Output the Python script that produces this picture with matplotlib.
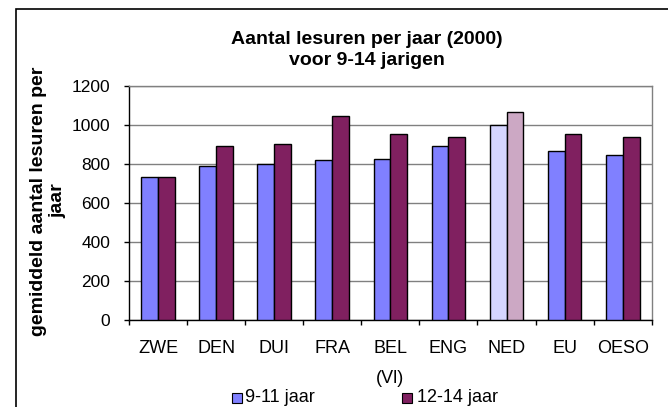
import matplotlib
matplotlib.use("Agg")
import matplotlib.pyplot as plt
from matplotlib.patches import Rectangle
import numpy as np

categories = ["ZWE", "DEN", "DUI", "FRA", "BEL\n(Vl)", "ENG", "NED", "EU", "OESO"]
jaar_9_11 = [734, 787, 799, 818, 824, 889, 1000, 865, 843]
jaar_12_14 = [734, 889, 899, 1043, 954, 935, 1063, 954, 935]
yticks = [0, 200, 400, 600, 800, 1000, 1200]
highlight = "NED"

plt.rcParams['font.family'] = ['Liberation Sans', 'DejaVu Sans']

PX = 72 / 100  # points per pixel at dpi 100

fig = plt.figure(figsize=(6.68, 4.07), dpi=100)
ax = fig.add_axes([129/668, 1-320/407, (651.7-129)/668, (320-85.7)/407])

x = np.arange(len(categories))
w = 0.29
c1 = ["#D5D5FF" if c == highlight else "#8080FF" for c in categories]
c2 = ["#CCA8C4" if c == highlight else "#802060" for c in categories]
ax.bar(x - w/2, jaar_9_11, w, color=c1, edgecolor="black", linewidth=1.0, zorder=3)
ax.bar(x + w/2, jaar_12_14, w, color=c2, edgecolor="black", linewidth=1.0, zorder=3)

ax.set_xlim(-0.5, len(categories) - 0.5)
ax.set_ylim(0, 1200)
ax.set_yticks(yticks)
ax.set_yticklabels([str(v) for v in yticks], fontsize=12.5)
ax.yaxis.grid(True, color="#808080", linewidth=1.0, zorder=0)
ax.set_axisbelow(True)

ax.set_xticks(np.arange(len(categories) + 1) - 0.5)
ax.set_xticklabels([])
ax.set_xticks(x, minor=True)
ax.set_xticklabels(categories, minor=True, fontsize=13, linespacing=2.0, va="top")
ax.tick_params(axis="x", which="minor", length=0, pad=20 * PX)
ax.tick_params(axis="x", which="major", length=5 * PX, direction="out", color="black", width=1)
ax.tick_params(axis="y", length=5 * PX, direction="out", color="black", width=1, pad=14 * PX)

for s in ["top", "right"]:
    ax.spines[s].set_color("#808080")
    ax.spines[s].set_linewidth(1.0)
for s in ["left", "bottom"]:
    ax.spines[s].set_color("black")
    ax.spines[s].set_linewidth(1.0)

fig.text(367/668, 1 - 50/407, "Aantal lesuren per jaar (2000)\nvoor 9-14 jarigen",
         ha="center", va="center", fontsize=14, fontweight="bold", linespacing=1.3)
fig.text(48/668, 1 - 201/407, "gemiddeld aantal lesuren per\njaar", rotation=90,
         ha="center", va="center", fontsize=14, fontweight="bold", linespacing=1.15, multialignment="center")

# legend
fig.patches.append(Rectangle((232/668, 1-403/407), 10/668, 10/407, transform=fig.transFigure,
                             facecolor="#8080FF", edgecolor="black", linewidth=0.8))
fig.text(245/668, 1-398/407, "9-11 jaar", ha="left", va="center", fontsize=13)
fig.patches.append(Rectangle((402/668, 1-403/407), 10/668, 10/407, transform=fig.transFigure,
                             facecolor="#802060", edgecolor="black", linewidth=0.8))
fig.text(417/668, 1-398/407, "12-14 jaar", ha="left", va="center", fontsize=13)

# outer chart border (clipped at right and bottom)
fig.patches.append(Rectangle((16/668, -0.1), 1.2, 1 - 9.5/407 + 0.1, transform=fig.transFigure,
                             facecolor="none", edgecolor="black", linewidth=1.2))

fig.savefig("out.png", dpi=100)
